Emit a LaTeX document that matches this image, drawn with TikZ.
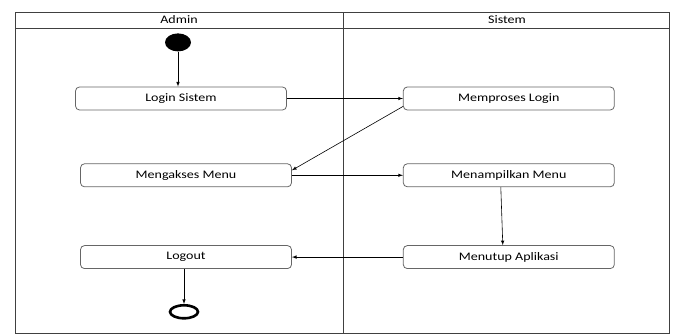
\documentclass[tikz,border=0pt]{standalone}
\usepackage{fontspec}
\setmainfont{Carlito}[FakeStretch=1.22]
\usetikzlibrary{arrows,positioning,shapes}

\begin{document}
\begin{tikzpicture}[x=1pt,y=1pt,
  act/.style={draw=black!60,rounded corners=4pt,line width=0.8pt,
    minimum width=211pt,minimum height=23pt,inner sep=0pt,
    font=\fontsize{11.5}{13}\selectfont},
  lane/.style={draw=black!75,line width=0.8pt},
  flow/.style={->,>=latex,black,line width=0.6pt}]
\useasboundingbox (0,0) rectangle (677,336);

% swimlanes
\draw[lane] (15,3) rectangle (669,324);
\draw[lane] (15,308) -- (669,308);
\draw[lane] (343,3) -- (343,324);
\node[font=\fontsize{11.5}{13}\selectfont] (admin) at (179,316) {Admin};
\node[font=\fontsize{11.5}{13}\selectfont] (sistem) at (507,316) {Sistem};

\node[act] (login) at (181,237.5) {Login Sistem};
\node[act,right=116pt of login] (proses) {Memproses Login};
\node[act,below=53pt of login,xshift=5pt] (akses) {Mengakses Menu};
\node[act,right=111pt of akses] (tampil) {Menampilkan Menu};
\node[act,below=58pt of akses] (logout) {Logout};
\node[act,right=111pt of logout] (tutup) {Menutup Aplikasi};

\node[ellipse,fill=black,minimum width=26pt,minimum height=18pt,inner sep=0pt,
  above=35pt of login,xshift=-3pt] (start) {};
\node[ellipse,draw=black,line width=2.6pt,minimum width=28pt,minimum height=13pt,
  inner sep=0pt,below=35pt of logout,xshift=-2pt] (end) {};

\draw[flow] (start) -- (start |- login.north);
\draw[flow] (login.east) -- (proses.west);
\draw[flow] ([yshift=-8pt]proses.west) -- ([yshift=5pt]akses.east);
\draw[flow] (akses.east) -- (tampil.west);
\draw[flow] ([xshift=-8pt]tampil.south) -- ([xshift=-6pt]tutup.north);
\draw[flow] (tutup.west) -- (logout.east);
\draw[flow] (end |- logout.south) -- (end.north);
\end{tikzpicture}
\end{document}
